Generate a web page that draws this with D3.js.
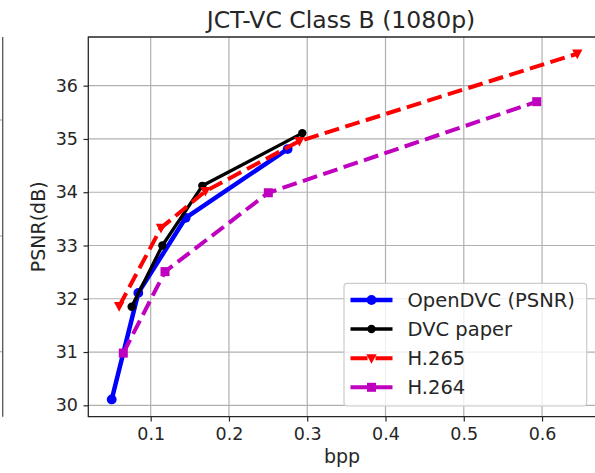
<!DOCTYPE html>
<html>
<head>
<meta charset="utf-8">
<script src="https://cdn.jsdelivr.net/npm/d3@7"></script>
<style>
  html, body { margin: 0; padding: 0; background: #fff; }
  svg { display: block; }
  text { font-family: "DejaVu Sans", sans-serif; fill: #262626; }
</style>
</head>
<body>
<svg id="chart" width="595" height="473"></svg>
<script>
// Rate–distortion results, JCT-VC Class B (1080p)
const openDvcBpp  = [0.0502, 0.0842, 0.1447, 0.275];
const openDvcPsnr = [30.11, 32.11, 33.52, 34.81];

const dvcPaperBpp  = [0.0757, 0.1149, 0.166, 0.2937];
const dvcPaperPsnr = [31.85, 33.00, 34.12, 35.11];

const h265Bpp  = [0.0597, 0.1132, 0.170, 0.290, 0.645];
const h265Psnr = [31.86, 33.33, 34.02, 34.96, 36.60];

const h264Bpp  = [0.065, 0.1183, 0.2503, 0.5932];
const h264Psnr = [30.98, 32.51, 33.99, 35.70];

const xTicks = [0.1, 0.2, 0.3, 0.4, 0.5, 0.6];
const yTicks = [30, 31, 32, 33, 34, 35, 36];
const neighbourGrid = [120, 235.9, 351.7];

const seriesNames = ["OpenDVC (PSNR)", "DVC paper", "H.265", "H.264"];

const series = [
  { name: seriesNames[0], bpp: openDvcBpp,  psnr: openDvcPsnr,  color: "#0000ff", width: 4.5, dash: null,     marker: "circle", r: 4.9 },
  { name: seriesNames[1], bpp: dvcPaperBpp, psnr: dvcPaperPsnr, color: "#000000", width: 3.3, dash: null,     marker: "circle", r: 4.2 },
  { name: seriesNames[2], bpp: h265Bpp,     psnr: h265Psnr,     color: "#ff0000", width: 4.0, dash: "15,6.5", marker: "tri",    r: 5.2 },
  { name: seriesNames[3], bpp: h264Bpp,     psnr: h264Psnr,     color: "#bf00bf", width: 4.0, dash: "15,6.5", marker: "square", r: 4.5 }
];

const svg = d3.select("#chart");
const plotLeft = 88.3, plotRight = 600.6, plotTop = 37.0, plotBottom = 416.7;

const x = d3.scaleLinear().domain([0.0203, 0.6748]).range([plotLeft, plotRight]);
const y = d3.scaleLinear().domain([29.786, 36.914]).range([plotBottom, plotTop]);

// Edge of the neighbouring panel on the left
const nb = svg.append("g");
neighbourGrid.forEach(v => {
  nb.append("line").attr("x1", 0).attr("x2", 2.7).attr("y1", v).attr("y2", v)
    .attr("stroke", "#b0b0b0").attr("stroke-width", 1.2);
});
nb.append("line").attr("x1", 2.7).attr("x2", 2.7).attr("y1", plotTop).attr("y2", plotBottom)
  .attr("stroke", "#555").attr("stroke-width", 1.3);

svg.append("defs").append("clipPath").attr("id", "plotClip")
  .append("rect").attr("x", plotLeft).attr("y", plotTop)
  .attr("width", plotRight - plotLeft).attr("height", plotBottom - plotTop);

// Grid
const grid = svg.append("g");
grid.selectAll(".gx").data(xTicks).join("line")
  .attr("x1", d => x(d)).attr("x2", d => x(d)).attr("y1", plotTop).attr("y2", plotBottom)
  .attr("stroke", "#b0b0b0").attr("stroke-width", 1.2);
grid.selectAll(".gy").data(yTicks).join("line")
  .attr("x1", plotLeft).attr("x2", plotRight).attr("y1", d => y(d)).attr("y2", d => y(d))
  .attr("stroke", "#b0b0b0").attr("stroke-width", 1.2);

// Axes
const xAxis = svg.append("g").attr("transform", `translate(0,${plotBottom})`)
  .call(d3.axisBottom(x).tickValues(xTicks).tickFormat(d3.format(".1f")).tickSize(4.8).tickPadding(6));
const yAxis = svg.append("g").attr("transform", `translate(${plotLeft},0)`)
  .call(d3.axisLeft(y).tickValues(yTicks).tickFormat(d3.format("d")).tickSize(4.8).tickPadding(5.5));
[xAxis, yAxis].forEach(a => {
  a.select(".domain").remove();
  a.selectAll("line").attr("stroke", "#262626").attr("stroke-width", 1.2);
  a.selectAll("text").attr("font-size", 17.5).attr("fill", "#262626")
    .style("font-family", '"DejaVu Sans", sans-serif');
});

// Spines
svg.append("line").attr("x1", plotLeft).attr("x2", plotLeft).attr("y1", plotTop - 0.6).attr("y2", plotBottom + 0.6)
  .attr("stroke", "#262626").attr("stroke-width", 1.3);
svg.append("line").attr("x1", plotLeft).attr("x2", plotRight).attr("y1", plotBottom).attr("y2", plotBottom)
  .attr("stroke", "#262626").attr("stroke-width", 1.3);
svg.append("line").attr("x1", plotLeft).attr("x2", plotRight).attr("y1", plotTop).attr("y2", plotTop)
  .attr("stroke", "#262626").attr("stroke-width", 1.3);

function drawMarker(g, kind, cx, cy, color, r) {
  if (kind === "circle") {
    g.append("circle").attr("cx", cx).attr("cy", cy).attr("r", r).attr("fill", color);
  } else if (kind === "square") {
    g.append("rect").attr("x", cx - r).attr("y", cy - r).attr("width", 2 * r).attr("height", 2 * r).attr("fill", color);
  } else {
    g.append("path").attr("d", `M${cx - r},${cy - r * 0.8}L${cx + r},${cy - r * 0.8}L${cx},${cy + r * 1.05}Z`)
      .attr("fill", color);
  }
}

// Data lines and markers
const plot = svg.append("g").attr("clip-path", "url(#plotClip)");
const line = d3.line().x(d => x(d[0])).y(d => y(d[1]));
series.forEach(s => {
  const pts = s.bpp.map((b, i) => [b, s.psnr[i]]);
  const g = plot.append("g");
  g.append("path").attr("d", line(pts)).attr("fill", "none")
    .attr("stroke", s.color).attr("stroke-width", s.width)
    .attr("stroke-dasharray", s.dash).attr("stroke-linejoin", "round");
  pts.forEach(p => drawMarker(g, s.marker, x(p[0]), y(p[1]), s.color, s.r));
});

// Title and axis labels
svg.append("text").attr("x", 341).attr("y", 28).attr("text-anchor", "middle")
  .attr("font-size", 23.5).text("JCT-VC Class B (1080p)");
svg.append("text").attr("x", 342).attr("y", 463).attr("text-anchor", "middle")
  .attr("font-size", 19).text("bpp");
svg.append("text").attr("transform", `translate(45,${(plotTop + plotBottom) / 2}) rotate(-90)`)
  .attr("text-anchor", "middle").attr("font-size", 19).text("PSNR(dB)");

// Legend
const lg = svg.append("g");
lg.append("rect").attr("x", 344).attr("y", 283.3).attr("width", 242.7).attr("height", 122.7)
  .attr("rx", 3.5).attr("fill", "#ffffff").attr("fill-opacity", 0.8)
  .attr("stroke", "#cccccc").attr("stroke-width", 1.2);
const rowY = [300, 329, 358.3, 387.3];
series.forEach((s, i) => {
  const ly = rowY[i];
  lg.append("line").attr("x1", 350.5).attr("x2", 392.5).attr("y1", ly).attr("y2", ly)
    .attr("stroke", s.color).attr("stroke-width", s.width)
    .attr("stroke-dasharray", s.dash ? "17,8" : null);
  drawMarker(lg, s.marker, 371.5, ly, s.color, s.r);
  lg.append("text").attr("x", 407.5).attr("y", ly).attr("dy", "0.36em")
    .attr("font-size", 19.5).text(s.name);
});
</script>
</body>
</html>
